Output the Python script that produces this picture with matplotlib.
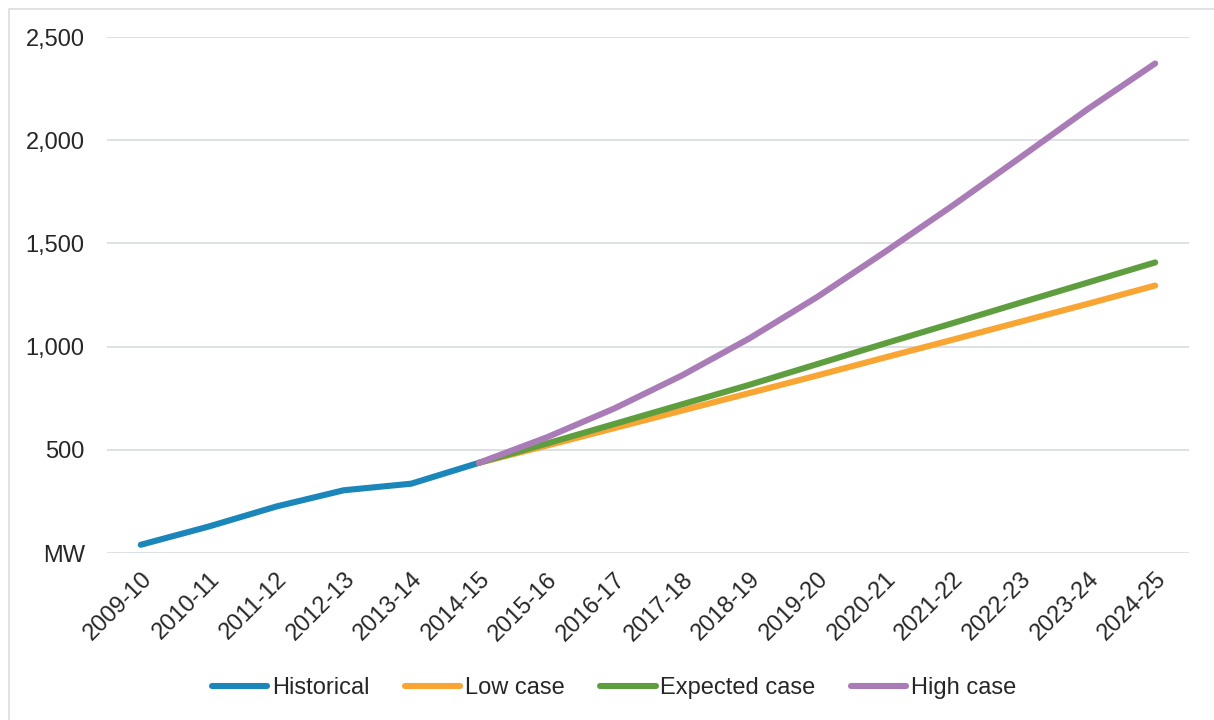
import matplotlib
matplotlib.use('Agg')
import matplotlib.pyplot as plt
from matplotlib.patches import Rectangle
from matplotlib.ticker import FuncFormatter

plt.rcParams['font.family'] = ['Liberation Sans', 'DejaVu Sans']

años = ['2009-10', '2010-11', '2011-12', '2012-13', '2013-14', '2014-15',
        '2015-16', '2016-17', '2017-18', '2018-19', '2019-20', '2020-21',
        '2021-22', '2022-23', '2023-24', '2024-25']

historico = [40, 128, 225, 304, 336, 437]
caso_bajo = [437, 520, 605, 690, 775, 860, 947, 1033, 1120, 1207, 1296]
caso_esperado = [437, 530, 625, 720, 815, 915, 1015, 1113, 1212, 1310, 1408]
caso_alto = [437, 560, 700, 860, 1040, 1240, 1458, 1682, 1915, 2150, 2372]

colores = {
    'Historical': '#1b86b9',
    'Low case': '#f9a534',
    'Expected case': '#5f9e3f',
    'High case': '#aa7cb7',
}
color_texto = '#262626'
color_rejilla = '#d9dee2'

fig = plt.figure(figsize=(12.14, 7.2), dpi=100)
ax = fig.add_axes([0.0881, 0.2319, 0.8913, 0.7167])

# marco exterior del gráfico
fig.patches.append(Rectangle((9 / 1214, -0.05), 1.1, 1.05 - 9 / 720,
                             transform=fig.transFigure, fill=False,
                             edgecolor='#d9dee0', linewidth=1.2))

x_hist = list(range(len(historico)))
x_proy = list(range(len(historico) - 1, len(años)))

ancho = 4.4
ax.plot(x_hist, historico, color=colores['Historical'], lw=ancho,
        solid_capstyle='round', label='Historical', zorder=3)
ax.plot(x_proy, caso_bajo, color=colores['Low case'], lw=ancho,
        solid_capstyle='round', label='Low case', zorder=3)
ax.plot(x_proy, caso_esperado, color=colores['Expected case'], lw=ancho,
        solid_capstyle='round', label='Expected case', zorder=3)
ax.plot(x_proy, caso_alto, color=colores['High case'], lw=ancho,
        solid_capstyle='round', label='High case', zorder=4)

ax.set_xlim(-0.5, len(años) - 0.5)
ax.set_ylim(0, 2500)
ax.set_yticks([0, 500, 1000, 1500, 2000, 2500])
ax.yaxis.set_major_formatter(
    FuncFormatter(lambda v, pos: 'MW' if v == 0 else f'{int(v):,}'))
ax.set_xticks(range(len(años)))
ax.set_xticklabels(años, rotation=45, ha='right', rotation_mode='anchor')

ax.grid(axis='y', color=color_rejilla, linewidth=1.3)
ax.set_axisbelow(True)
for lado in ax.spines.values():
    lado.set_visible(False)
ax.tick_params(axis='both', length=0, labelsize=17, colors=color_texto)
ax.tick_params(axis='y', pad=16)
ax.tick_params(axis='x', pad=11)

fig.legend(loc='center', bbox_to_anchor=(0.5058, 0.044), ncol=4,
           frameon=False, fontsize=17, handlelength=2.35, handletextpad=0.2,
           columnspacing=1.5, labelcolor=color_texto)

fig.savefig('out.png', dpi=100)
